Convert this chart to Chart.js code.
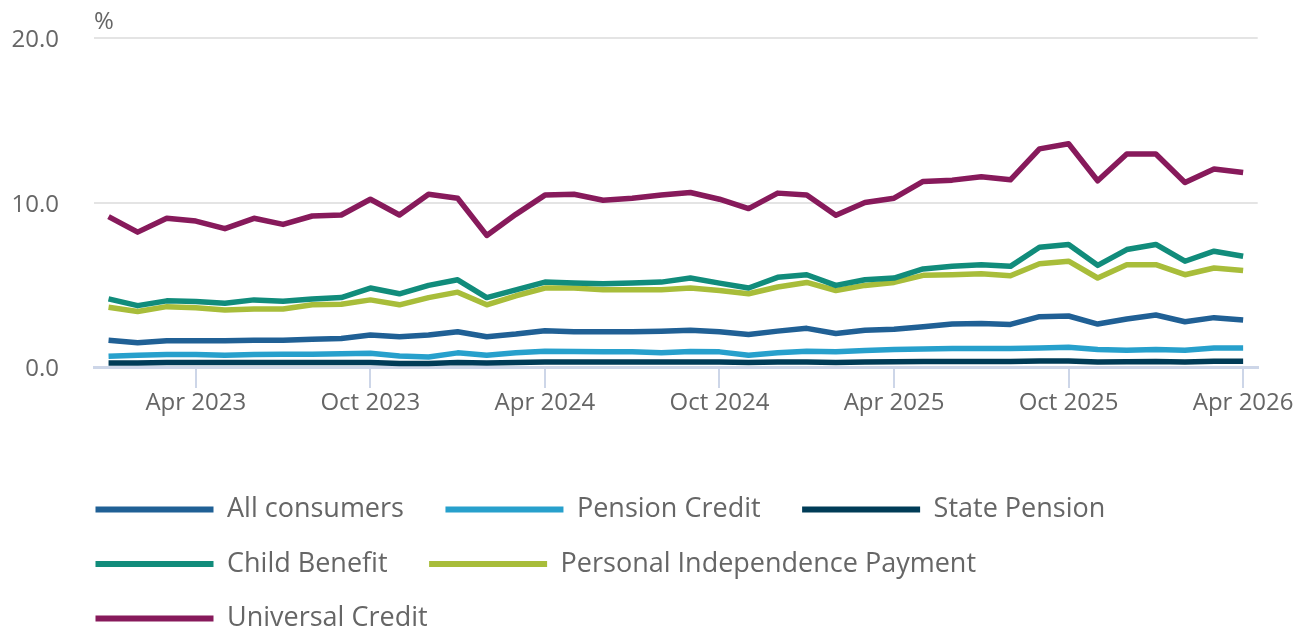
<!DOCTYPE html>
<html>
<head>
<meta charset="utf-8">
<script src="https://cdn.jsdelivr.net/npm/chart.js@4.4.1/dist/chart.umd.min.js"></script>
<style>
  html, body { margin: 0; padding: 0; background: #ffffff; }
  #wrap { width: 1295px; height: 630px; position: relative; }
</style>
</head>
<body>
<div id="wrap"><canvas id="c"></canvas></div>
<script>
const categories = [
  "Jan 2023","Feb 2023","Mar 2023","Apr 2023","May 2023","Jun 2023","Jul 2023","Aug 2023","Sep 2023","Oct 2023","Nov 2023","Dec 2023",
  "Jan 2024","Feb 2024","Mar 2024","Apr 2024","May 2024","Jun 2024","Jul 2024","Aug 2024","Sep 2024","Oct 2024","Nov 2024","Dec 2024",
  "Jan 2025","Feb 2025","Mar 2025","Apr 2025","May 2025","Jun 2025","Jul 2025","Aug 2025","Sep 2025","Oct 2025","Nov 2025","Dec 2025",
  "Jan 2026","Feb 2026","Mar 2026","Apr 2026"
];

const allConsumers = [1.63,1.47,1.59,1.59,1.59,1.63,1.63,1.69,1.73,1.94,1.84,1.94,
  2.14,1.84,2.0,2.2,2.14,2.14,2.14,2.18,2.24,2.14,1.98,2.18,
  2.35,2.04,2.24,2.29,2.45,2.61,2.65,2.59,3.06,3.1,2.61,2.92,
  3.16,2.75,3.0,2.86];

const pensionCredit = [0.65,0.71,0.76,0.76,0.71,0.76,0.78,0.78,0.8,0.84,0.67,0.61,
  0.86,0.71,0.86,0.96,0.94,0.92,0.92,0.86,0.94,0.92,0.71,0.86,
  0.96,0.92,1.0,1.06,1.1,1.12,1.12,1.12,1.16,1.2,1.06,1.02,
  1.06,1.02,1.16,1.16];

const statePension = [0.25,0.25,0.27,0.27,0.27,0.27,0.27,0.27,0.27,0.28,0.22,0.22,
  0.28,0.25,0.27,0.3,0.3,0.3,0.3,0.3,0.3,0.3,0.27,0.3,
  0.3,0.28,0.3,0.32,0.33,0.33,0.34,0.34,0.37,0.37,0.3,0.32,
  0.33,0.3,0.35,0.35];

const childBenefit = [4.14,3.73,4.02,3.98,3.88,4.08,4.0,4.14,4.22,4.8,4.45,4.96,
  5.3,4.22,4.69,5.16,5.1,5.06,5.1,5.16,5.41,5.1,4.8,5.45,
  5.61,4.96,5.3,5.41,5.96,6.12,6.22,6.12,7.28,7.45,6.18,7.14,
  7.45,6.43,7.04,6.73];

const pip = [3.63,3.37,3.67,3.6,3.47,3.53,3.53,3.78,3.82,4.08,3.78,4.22,
  4.55,3.78,4.33,4.8,4.8,4.69,4.69,4.69,4.8,4.65,4.45,4.86,
  5.14,4.65,4.96,5.14,5.57,5.61,5.67,5.55,6.28,6.43,5.41,6.22,
  6.22,5.61,6.02,5.86];

const universalCredit = [9.14,8.2,9.04,8.87,8.41,9.04,8.67,9.18,9.24,10.2,9.24,10.5,
  10.26,8.0,9.28,10.45,10.5,10.14,10.26,10.45,10.61,10.2,9.63,10.57,
  10.45,9.22,10.0,10.26,11.28,11.36,11.57,11.38,13.26,13.57,11.32,12.95,
  12.95,11.22,12.04,11.83];

const seriesNames = ["All consumers","Pension Credit","State Pension","Child Benefit","Personal Independence Payment","Universal Credit"];
const yTicks = [0, 10, 20];
const yUnit = "%";

const seriesValues = [allConsumers, pensionCredit, statePension, childBenefit, pip, universalCredit];
const colors = ["#206095","#27a0cc","#003c57","#118c7b","#a8bd3a","#871a5b"];

const textColor = "#666666";
const LEGEND_PAD = 27.5;

const legendShift = {
  id: 'legendShift',
  afterLayout(chart) {
    const lg = chart.legend;
    if (lg) {
      lg.left = chart.chartArea.left + 1.5 - LEGEND_PAD;
      lg.top += 12;
    }
  }
};

function draw() {
  Chart.defaults.font.family = "'Open Sans', sans-serif";
  Chart.defaults.color = textColor;
  new Chart(document.getElementById('c'), {
    type: 'line',
    data: {
      labels: categories,
      datasets: seriesNames.map((name, i) => ({
        label: name,
        data: seriesValues[i],
        borderColor: colors[i],
        backgroundColor: colors[i],
        borderWidth: 5.5,
        pointRadius: 0,
        pointHoverRadius: 0,
        tension: 0,
        borderJoinStyle: 'round',
        borderCapStyle: 'butt',
        fill: false
      }))
    },
    options: {
      responsive: true,
      maintainAspectRatio: false,
      animation: false,
      events: [],
      layout: { padding: 0 },
      scales: {
        x: {
          type: 'category',
          offset: true,
          grid: {
            offset: false,
            drawOnChartArea: false,
            drawTicks: true,
            tickLength: 21,
            lineWidth: 2,
            tickColor: (ctx) => (ctx.index % 6 === 3 ? '#cdd6e8' : 'rgba(0,0,0,0)')
          },
          border: { display: true, color: '#cdd6e8', width: 3 },
          ticks: {
            autoSkip: false,
            maxRotation: 0,
            minRotation: 0,
            padding: 1,
            color: textColor,
            font: { size: 24 },
            callback: (v, i) => (i % 6 === 3 ? categories[i] : '')
          },
          afterFit: (scale) => { scale.height = 89.5; }
        },
        y: {
          min: yTicks[0],
          max: yTicks[yTicks.length - 1],
          afterBuildTicks: (scale) => { scale.ticks = yTicks.map(v => ({ value: v })); },
          grid: { color: '#e4e4e4', lineWidth: 2, drawTicks: false },
          border: { display: false },
          ticks: {
            padding: 35,
            labelOffset: 2.5,
            color: textColor,
            font: { size: 24 },
            callback: (v) => Number(v).toFixed(1)
          },
          afterFit: (scale) => {
            scale.width = 94;
            scale.paddingTop = 0;
            scale.paddingBottom = 0;
          }
        }
      },
      plugins: {
        tooltip: { enabled: false },
        title: {
          display: true,
          text: yUnit,
          align: 'start',
          fullSize: false,
          color: textColor,
          font: { size: 24, weight: 'normal' },
          padding: { top: 8, bottom: 1.2 }
        },
        legend: {
          display: true,
          position: 'bottom',
          align: 'start',
          labels: {
            boxWidth: 118,
            boxHeight: 6,
            padding: LEGEND_PAD,
            color: textColor,
            font: { size: 27 },
            generateLabels: (chart) => chart.data.datasets.map((ds, i) => ({
              text: ds.label + '  ',
              fillStyle: ds.borderColor,
              strokeStyle: ds.borderColor,
              lineWidth: 0,
              fontColor: textColor,
              hidden: !chart.isDatasetVisible(i),
              datasetIndex: i
            }))
          }
        }
      }
    },
    plugins: [legendShift]
  });
}

if (document.fonts && document.fonts.load) {
  Promise.all([
    document.fonts.load("24px 'Open Sans'"),
    document.fonts.load("27px 'Open Sans'")
  ]).then(draw, draw);
} else {
  draw();
}
</script>
</body>
</html>
